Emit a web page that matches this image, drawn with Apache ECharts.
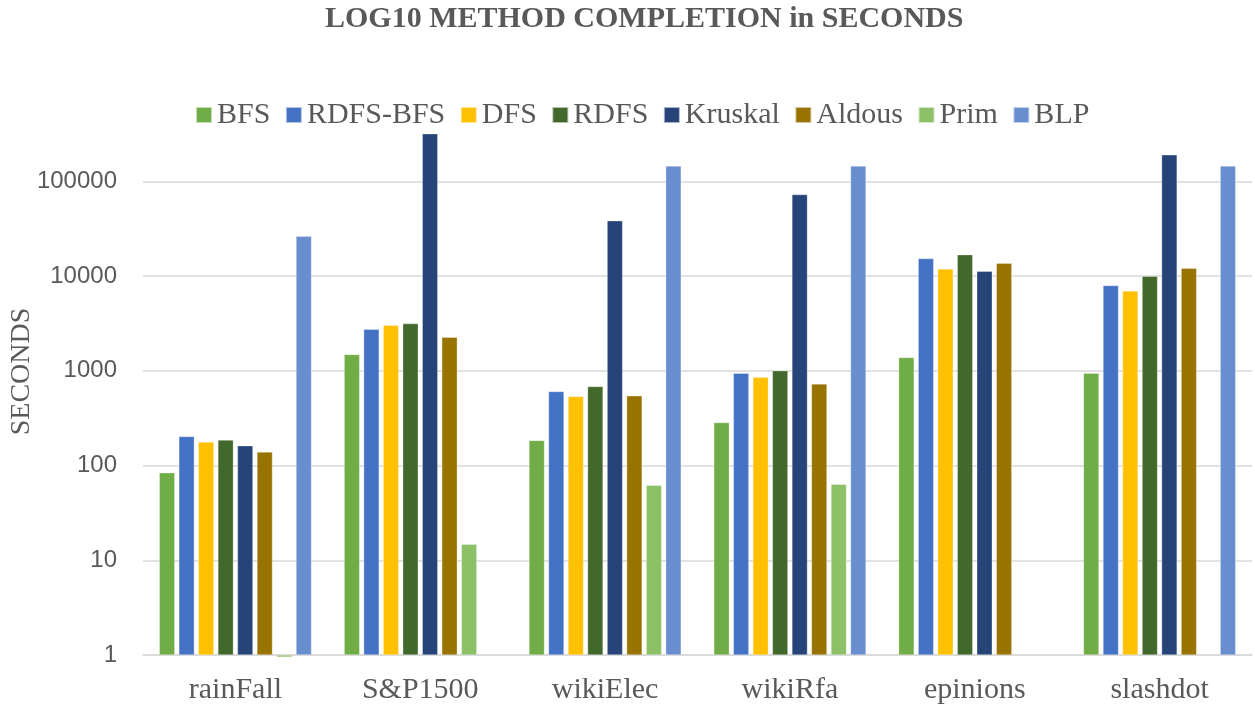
<!DOCTYPE html>
<html><head><meta charset="utf-8">
<script src="https://cdn.jsdelivr.net/npm/echarts@6/dist/echarts.min.js"></script>
<style>html,body{margin:0;padding:0;background:#fff}#c{width:1255px;height:707px}</style>
</head><body><div id="c"></div>
<script>
const categories = ['rainFall', 'S&P1500', 'wikiElec', 'wikiRfa', 'epinions', 'slashdot'];
const seriesNames = ['BFS', 'RDFS-BFS', 'DFS', 'RDFS', 'Kruskal', 'Aldous', 'Prim', 'BLP'];
const BFS     = [84, 1490, 184, 284, 1383, 942];
const RDFS_BFS= [203, 2740, 605, 942, 15300, 7950];
const DFS     = [177, 3020, 536, 857, 11900, 6980];
const RDFS    = [186, 3150, 683, 1003, 16800, 9960];
const Kruskal = [162, 321000, 38400, 72500, 11250, 190500];
const Aldous  = [139, 2260, 545, 726, 13650, 12080];
const Prim    = [0.95, 14.8, 61.8, 63.5, null, null];
const BLP     = [26400, null, 145500, 145500, null, 145500];
const colors = ['#70AD47', '#4472C4', '#FFC000', '#43682B', '#264478', '#997300', '#8CC168', '#698ED0'];
const values = [BFS, RDFS_BFS, DFS, RDFS, Kruskal, Aldous, Prim, BLP];

const chart = echarts.init(document.getElementById('c'), null, {renderer: 'canvas'});
const serif = '"Liberation Serif", "DejaVu Serif", serif';
const sans = '"Liberation Sans", Arial, sans-serif';
chart.setOption({
  animation: false,
  title: {
    text: 'LOG10 METHOD COMPLETION in SECONDS',
    left: 325, top: 4, padding: 0,
    textStyle: {fontFamily: serif, fontWeight: 'bold', fontSize: 30, color: '#595959'}
  },
  legend: {
    data: seriesNames, top: 100, left: 195, padding: 0,
    itemWidth: 16, itemHeight: 16, itemGap: 14.5, icon: 'rect',
    textStyle: {fontFamily: serif, fontSize: 30, color: '#595959'}
  },
  grid: {left: 143, right: 3, top: 134, bottom: 52, containLabel: false, outerBoundsMode: 'none'},
  xAxis: {
    type: 'category', data: categories,
    axisLine: {lineStyle: {color: '#d9d9d9', width: 1.5}},
    axisTick: {show: false},
    axisLabel: {fontFamily: serif, fontSize: 30, color: '#595959', margin: 20}
  },
  yAxis: {
    type: 'log', logBase: 10, min: 1, max: 316228,
    name: 'SECONDS', nameLocation: 'middle', nameGap: 107, nameRotate: 90, nameMoveOverlap: false,
    nameTextStyle: {fontFamily: serif, fontSize: 28, color: '#595959', padding: [0, 0, 0, 46]},
    axisLine: {show: false}, axisTick: {show: false},
    axisLabel: {fontFamily: sans, fontSize: 24, color: '#595959', margin: 26, showMaxLabel: false,
      formatter: v => String(Math.round(v))},
    splitLine: {show: true, showMaxLine: false, lineStyle: {color: '#d9d9d9', width: 1.5}}
  },
  series: seriesNames.map((n, i) => ({
    name: n, type: 'bar', data: values[i],
    barWidth: 15.5, barGap: '26%', barCategoryGap: '18%',
    clip: n !== 'Prim',
    itemStyle: {color: colors[i], borderColor: 'rgba(255,255,255,0.6)', borderWidth: 0.5}
  }))
});
</script></body></html>
